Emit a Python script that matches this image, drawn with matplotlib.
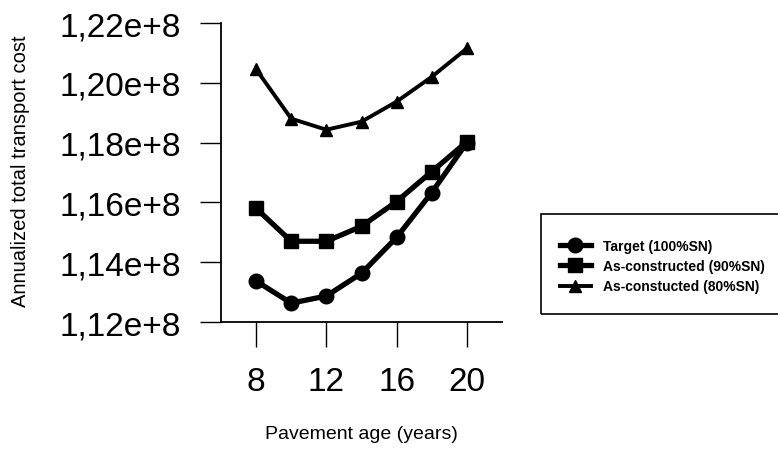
import matplotlib
matplotlib.use("Agg")
import matplotlib.pyplot as plt
from matplotlib.patches import Rectangle

plt.rcParams['font.family'] = ['Liberation Sans', 'DejaVu Sans']

# Pavement age (years)
ages = [8, 10, 12, 14, 16, 18, 20]

# Annualized total transport cost (units of 1e8)
target_100 = [1.1337, 1.1263, 1.1287, 1.1363, 1.1483, 1.1633, 1.1800]
constructed_90 = [1.1580, 1.1470, 1.1470, 1.1520, 1.1603, 1.1703, 1.1803]
constructed_80 = [1.2045, 1.1880, 1.1843, 1.1870, 1.1937, 1.2020, 1.2115]

series_labels = ["Target (100%SN)", "As-constructed (90%SN)", "As-constucted (80%SN)"]
x_ticks = [8, 12, 16, 20]
y_ticks = [1.12, 1.14, 1.16, 1.18, 1.20, 1.22]
y_tick_labels = ["1,12e+8", "1,14e+8", "1,16e+8", "1,18e+8", "1,20e+8", "1,22e+8"]

W, H = 778, 456
fig = plt.figure(figsize=(W / 100, H / 100), dpi=100)
ax = fig.add_axes([221 / W, (H - 323) / H, (502 - 221) / W, (323 - 24) / H])

ax.plot(ages, target_100, color="black", lw=3.8, marker="o", ms=10.5, label=series_labels[0])
ax.plot(ages, constructed_90, color="black", lw=3.8, marker="s", ms=9.5, label=series_labels[1])
ax.plot(ages, constructed_80, color="black", lw=2.8, marker="^", ms=9, label=series_labels[2])

ax.set_xlim(6, 22)
ax.set_ylim(1.12, 1.22)
ax.set_xticks(x_ticks)
ax.set_xticklabels([str(t) for t in x_ticks], fontsize=24)
ax.set_yticks(y_ticks)
ax.set_yticklabels(y_tick_labels, fontsize=24)
ax.tick_params(axis="y", direction="out", length=15, width=1, pad=14)
ax.tick_params(axis="x", direction="out", length=18, width=1, pad=14)

for side in ("top", "right"):
    ax.spines[side].set_visible(False)
for side in ("left", "bottom"):
    ax.spines[side].set_linewidth(1.3)

ax.set_xlabel("Pavement age (years)", fontsize=14, labelpad=20)
fig.text(21 / W, 1 - 171 / H, "Annualized total transport cost", rotation=90,
         fontsize=14.5, ha="center", va="center")

# legend box running off the right edge
fig.patches.append(Rectangle((541 / W, (H - 315) / H), 0.5, 100 / H,
                             transform=fig.transFigure, fill=False,
                             edgecolor="black", lw=1.2))
leg = fig.legend(loc="upper left", bbox_to_anchor=(553 / W, 1 - 233 / H),
                 frameon=False, fontsize=10, handlelength=2.2,
                 handletextpad=0.9, labelspacing=0.45, borderpad=0)
for t in leg.get_texts():
    t.set_fontweight("bold")

fig.savefig("out.png", dpi=100)
